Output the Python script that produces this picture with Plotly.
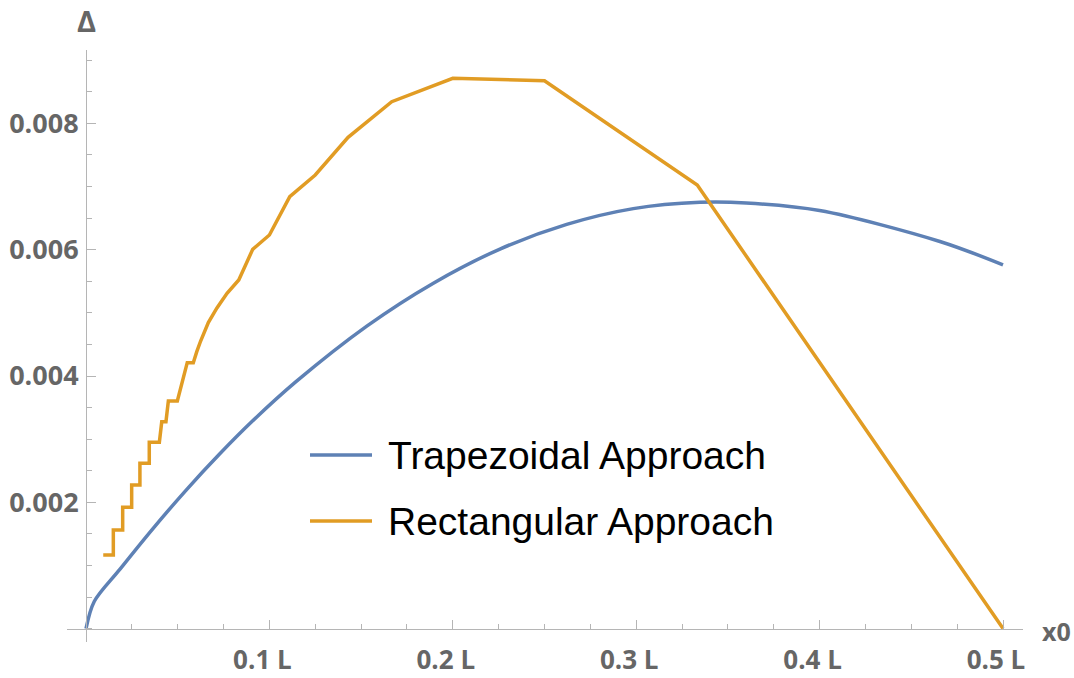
import plotly.graph_objects as go

# Error Δ versus load position x0 (in units of span L)
x_trap = [0.0, 0.0045, 0.0182, 0.0364, 0.0545, 0.0727, 0.0909, 0.1145, 0.1531,
          0.1894, 0.2257, 0.2621, 0.2984, 0.3348, 0.36, 0.40, 0.4656, 0.5]
d_trap = [0.0, 0.00043, 0.00093, 0.00158, 0.00219, 0.00276, 0.00329, 0.00391,
          0.00479, 0.00547, 0.00601, 0.00640, 0.00665, 0.00675, 0.00674, 0.00662,
          0.00613, 0.00576]

x_rect = [0.0094, 0.0149, 0.0149, 0.0200, 0.0200, 0.0249, 0.0249, 0.0294, 0.0294,
          0.0345, 0.0345, 0.0400, 0.0413, 0.0436, 0.0449, 0.0498, 0.0552, 0.0585,
          0.0604, 0.0625, 0.0667, 0.0714, 0.0769, 0.0833, 0.0909, 0.1, 0.1111,
          0.125, 0.1429, 0.1667, 0.2, 0.25, 0.3333, 0.5]
d_rect = [0.001165, 0.001165, 0.001561, 0.001561, 0.001921, 0.001921, 0.002274,
          0.002274, 0.002618, 0.002618, 0.002950, 0.002950, 0.003276, 0.003276,
          0.003604, 0.003604, 0.004211, 0.004211, 0.004385, 0.004554, 0.004847,
          0.005077, 0.005310, 0.005520, 0.006006, 0.006233, 0.006839, 0.007183,
          0.007780, 0.008344, 0.008714, 0.008676, 0.007024, 0.0]

series_names = ["Trapezoidal Approach", "Rectangular Approach"]

x_tick_vals = [0.1, 0.2, 0.3, 0.4, 0.5]
x_tick_text = ["0.1 L", "0.2 L", "0.3 L", "0.4 L", "0.5 L"]
y_tick_vals = [0.002, 0.004, 0.006, 0.008]
y_tick_text = ["0.002", "0.004", "0.006", "0.008"]

BLUE = "#5E81B5"
ORANGE = "#E19C24"
AXIS = "#b5b5b5"
LABEL = "#666666"

W, H = 1074, 678
ML, MR, MT, MB = 67, 51, 50, 36
X_RANGE = [-0.01036, 0.5109]
Y_RANGE = [-0.000212, 0.009162]


def paper_x(px):
    return (px - ML) / (W - ML - MR)


def paper_y(py):
    return (H - MB - py) / (H - MT - MB)


fig = go.Figure()
fig.add_trace(go.Scatter(
    x=x_trap, y=d_trap, mode="lines", name=series_names[0],
    line=dict(color=BLUE, width=3.5, shape="spline", smoothing=0.9),
    showlegend=False, hoverinfo="skip"))
fig.add_trace(go.Scatter(
    x=x_rect, y=d_rect, mode="lines", name=series_names[1],
    line=dict(color=ORANGE, width=3.5),
    showlegend=False, hoverinfo="skip"))

fig.update_layout(
    width=W, height=H,
    margin=dict(l=ML, r=MR, t=MT, b=MB, autoexpand=False),
    paper_bgcolor="white", plot_bgcolor="white",
    xaxis=dict(
        range=X_RANGE, showgrid=False, zeroline=False, automargin=False,
        showline=True, linecolor=AXIS, linewidth=1,
        anchor="free",
        position=(0 - Y_RANGE[0]) / (Y_RANGE[1] - Y_RANGE[0]),
        ticks="inside", ticklen=9, tickwidth=1, tickcolor=AXIS,
        tickmode="array", tickvals=x_tick_vals, ticktext=x_tick_text,
        tickfont=dict(family="Open Sans", size=26, color=LABEL, weight="bold"),
        ticklabelstandoff=8, ticklabelshift=-7,
        minor=dict(tick0=0, dtick=0.025, ticks="inside", ticklen=5,
                   tickwidth=1, tickcolor=AXIS, showgrid=False),
    ),
    yaxis=dict(
        range=Y_RANGE, showgrid=False, zeroline=False, automargin=False,
        showline=True, linecolor=AXIS, linewidth=1,
        anchor="free",
        position=(0 - X_RANGE[0]) / (X_RANGE[1] - X_RANGE[0]),
        ticks="inside", ticklen=9, tickwidth=1, tickcolor=AXIS,
        tickmode="array", tickvals=y_tick_vals, ticktext=y_tick_text,
        tickfont=dict(family="Open Sans", size=27, color=LABEL, weight="bold"),
        ticklabelstandoff=2,
        minor=dict(tick0=0, dtick=0.0005, ticks="inside", ticklen=5,
                   tickwidth=1, tickcolor=AXIS, showgrid=False),
    ),
)

# axis names
fig.add_annotation(text="Δ", xref="x", x=0, yref="paper", y=1.0, yshift=30,
                   showarrow=False, xanchor="center", yanchor="middle",
                   font=dict(family="Open Sans", size=29, color=LABEL,
                             weight="bold"))
fig.add_annotation(text="x0", xref="paper", x=paper_x(1040), yref="y", y=0,
                   yshift=-2, showarrow=False, xanchor="left", yanchor="middle",
                   font=dict(family="Open Sans", size=25, color=LABEL,
                             weight="bold"))

# legend drawn inside the plot
legend_rows = [(series_names[0], BLUE, 455), (series_names[1], ORANGE, 521)]
for name, color, py in legend_rows:
    fig.add_shape(type="line", xref="paper", yref="paper",
                  x0=paper_x(310), x1=paper_x(372), y0=paper_y(py), y1=paper_y(py),
                  line=dict(color=color, width=3.5))
    fig.add_annotation(text=name, xref="paper", x=paper_x(386), yref="paper",
                       y=paper_y(py), showarrow=False, xanchor="left",
                       yanchor="middle",
                       font=dict(family="Liberation Sans", size=39, color="black"))

fig.write_html("out.html")
